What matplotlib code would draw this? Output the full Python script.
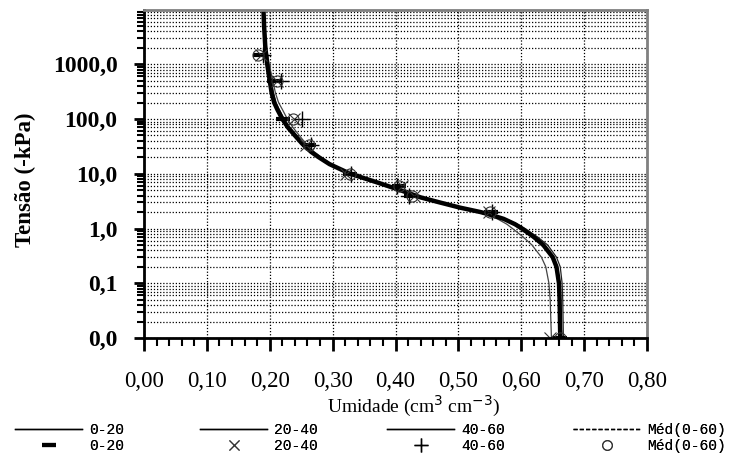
import matplotlib
matplotlib.use("Agg")
import matplotlib.pyplot as plt
from matplotlib.lines import Line2D
from matplotlib.ticker import FixedLocator, MultipleLocator, LogLocator, NullFormatter

# tension values (kPa) of the measured points; 0 kPa is drawn at 0.01
psi_obs = [0.01, 2, 4, 6, 10, 33, 100, 500, 1500]
theta_0_20 = [0.662, 0.552, 0.425, 0.405, 0.328, 0.262, 0.221, 0.207, 0.184]
theta_20_40 = [0.646, 0.548, 0.430, 0.410, 0.322, 0.258, 0.238, 0.211, 0.186]
theta_40_60 = [0.664, 0.553, 0.422, 0.402, 0.330, 0.266, 0.252, 0.218, 0.189]
theta_med = [0.662, 0.551, 0.426, 0.406, 0.327, 0.262, 0.237, 0.212, 0.181]

# fitted curves
psi_fit = [10000, 5000, 2000, 1000, 700, 500, 300, 200, 150, 100, 70, 50, 35, 25, 20, 15,
           10, 7, 5, 3.7, 3, 2.4, 2, 1.8, 1.5, 1.2, 1, 0.7, 0.5, 0.3, 0.2, 0.1, 0.05, 0.01]
fit_0_20 = [0.189, 0.190, 0.192, 0.195, 0.197, 0.199, 0.202, 0.206, 0.211, 0.219, 0.228, 0.239,
            0.251, 0.265, 0.277, 0.294, 0.327, 0.369, 0.407, 0.439, 0.469, 0.502, 0.534, 0.549,
            0.571, 0.589, 0.600, 0.619, 0.634, 0.649, 0.655, 0.659, 0.660, 0.661]
fit_20_40 = [0.190, 0.192, 0.195, 0.199, 0.202, 0.205, 0.209, 0.214, 0.220, 0.228, 0.237, 0.247,
             0.258, 0.271, 0.282, 0.298, 0.330, 0.371, 0.409, 0.440, 0.469, 0.500, 0.530, 0.543,
             0.562, 0.577, 0.586, 0.603, 0.617, 0.632, 0.639, 0.644, 0.646, 0.648]
fit_40_60 = [0.191, 0.192, 0.194, 0.197, 0.200, 0.202, 0.206, 0.210, 0.215, 0.223, 0.232, 0.243,
             0.255, 0.268, 0.280, 0.296, 0.329, 0.371, 0.409, 0.441, 0.471, 0.504, 0.537, 0.553,
             0.575, 0.594, 0.606, 0.626, 0.642, 0.656, 0.662, 0.665, 0.666, 0.667]
fit_med = [0.190, 0.191, 0.193, 0.196, 0.198, 0.200, 0.203, 0.207, 0.212, 0.220, 0.229, 0.240,
           0.252, 0.266, 0.278, 0.295, 0.328, 0.370, 0.408, 0.440, 0.470, 0.503, 0.535, 0.550,
           0.572, 0.590, 0.601, 0.620, 0.635, 0.650, 0.656, 0.660, 0.661, 0.662]

x_ticks = [0.0, 0.1, 0.2, 0.3, 0.4, 0.5, 0.6, 0.7, 0.8]
y_ticks = [0.01, 0.1, 1, 10, 100, 1000]
y_labels = ['0,0', '0,1', '1,0', '10,0', '100,0', '1000,0']
legend_labels = ['0-20', '20-40', '40-60', 'Méd(0-60)']

serif = 'Liberation Serif'

fig = plt.figure(figsize=(7.33, 4.55), dpi=100)
ax = fig.add_axes([144 / 733, 117 / 455, 503 / 733, 328 / 455])

# curves
ax.plot(fit_0_20, psi_fit, color='black', lw=0.9)
ax.plot(fit_20_40, psi_fit, color='#444444', lw=0.9)
ax.plot(fit_40_60, psi_fit, color='#222222', lw=0.9)
ax.plot(fit_med, psi_fit, color='black', lw=3.2, solid_joinstyle='round')

# points
ax.plot(theta_0_20, psi_obs, ls='none', marker='_', ms=10, mew=3, color='black')
ax.plot(theta_20_40, psi_obs, ls='none', marker='x', ms=8, mew=0.8, color='#333333')
ax.plot(theta_40_60, psi_obs, ls='none', marker='+', ms=11, mew=1, color='black')
ax.plot(theta_med, psi_obs, ls='none', marker='o', ms=8, mew=0.8, mfc='none', mec='#333333')

ax.set_yscale('log')
ax.set_xlim(0, 0.8)
ax.set_ylim(0.01, 9800)

ax.xaxis.set_major_locator(FixedLocator(x_ticks))
ax.xaxis.set_minor_locator(MultipleLocator(0.02))
ax.set_xticklabels([f"{v:.2f}".replace('.', ',') for v in x_ticks],
                   fontfamily=serif, fontsize=16.5)
ax.yaxis.set_major_locator(FixedLocator(y_ticks))
ax.yaxis.set_minor_locator(LogLocator(base=10, subs=range(2, 10), numticks=20))
ax.yaxis.set_minor_formatter(NullFormatter())
ax.set_yticklabels(y_labels, fontfamily=serif, fontsize=17, fontweight='bold')

ax.tick_params(axis='x', which='major', direction='out', length=9, width=2, pad=15)
ax.tick_params(axis='x', which='minor', direction='out', length=6, width=1.5)
ax.tick_params(axis='y', which='major', direction='out', length=7, width=2, pad=12)
ax.tick_params(axis='y', which='minor', direction='out', length=5, width=1.5)
ax.tick_params(top=False, right=False)

# dotted grid
ax.grid(which='major', axis='x', color='black', ls=(0, (1, 1.5)), lw=0.9)
ax.grid(which='both', axis='y', color='black', ls=(0, (1, 1.5)), lw=0.9)
ax.set_axisbelow(True)

for s in ['left', 'bottom']:
    ax.spines[s].set_linewidth(2)
    ax.spines[s].set_color('black')
for s in ['top', 'right']:
    ax.spines[s].set_linewidth(2)
    ax.spines[s].set_color('#808080')

fig.text(414 / 733, 1 - 406 / 455, 'Umidade (cm$^3$ cm$^{-3}$)', ha='center', va='center',
         fontfamily=serif, fontsize=14)
fig.text(25 / 733, 1 - 180 / 455, 'Tensão (-kPa)', ha='center', va='center', rotation=90,
         fontfamily=serif, fontsize=16.5, fontweight='bold')

# legend: one small legend per column, line on top and marker below
line_handles = [
    Line2D([], [], color='black', lw=1),
    Line2D([], [], color='black', lw=1),
    Line2D([], [], color='black', lw=1),
    Line2D([], [], color='black', lw=1, ls=(0, (3, 1.5))),
]
marker_handles = [
    Line2D([], [], ls='none', marker='_', ms=10, mew=3, color='black'),
    Line2D([], [], ls='none', marker='x', ms=7, mew=0.8, color='#333333'),
    Line2D([], [], ls='none', marker='+', ms=10, mew=1, color='black'),
    Line2D([], [], ls='none', marker='o', ms=7, mew=0.8, mfc='none', mec='#333333'),
]
col_x = [15, 200, 387, 573]
for i in range(4):
    leg = fig.legend([line_handles[i], marker_handles[i]], [legend_labels[i]] * 2,
                     loc='lower left', bbox_to_anchor=(col_x[i] / 733, 0.004),
                     frameon=False, prop={'family': 'Liberation Mono', 'size': 10.5},
                     handlelength=4.6, handletextpad=0.5, labelspacing=0.15,
                     borderpad=0, borderaxespad=0, numpoints=1)
    fig.add_artist(leg)

fig.savefig('out.png', dpi=100)
